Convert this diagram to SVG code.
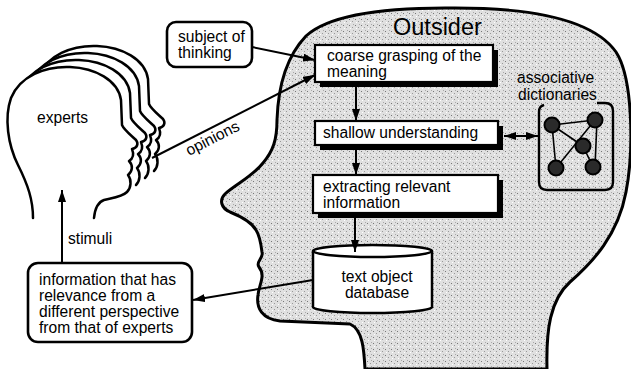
<svg xmlns="http://www.w3.org/2000/svg" xmlns:xlink="http://www.w3.org/1999/xlink" width="631" height="369" viewBox="0 0 631 369">
<defs>
<style>
.t{font-family:"Liberation Sans",Arial,Helvetica,sans-serif;font-size:15.6px;fill:#000}
.big{font-size:23.5px}
.ol{fill:none;stroke:#000;stroke-width:2.5;stroke-linejoin:round;stroke-linecap:round}
.box{fill:#fff;stroke:#000;stroke-width:2.2}
.rbox{fill:#fff;stroke:#000;stroke-width:2.6}
.sh{fill:#000}
.con{fill:none;stroke:#000;stroke-width:2}
.node{fill:#2a2a2a;stroke:#000;stroke-width:2}
.edge{fill:none;stroke:#000;stroke-width:1.6}
</style>
<pattern id="stip" width="6" height="6" patternUnits="userSpaceOnUse">
<rect width="6" height="6" fill="#e0e0e0"/>
<rect x="1" y="1" width="1" height="1" fill="#777"/>
<rect x="4" y="3" width="1" height="1" fill="#999"/>
<rect x="2" y="4" width="1" height="1" fill="#fff"/>
<rect x="5" y="0" width="1" height="1" fill="#aaa"/>
</pattern>
<marker id="ah" viewBox="0 0 12 8" refX="12" refY="4" markerWidth="12" markerHeight="8" markerUnits="userSpaceOnUse" orient="auto-start-reverse">
<path d="M0,0 L12,4 L0,8 Z" fill="#000"/>
</marker>
<path id="hline" d="M33,218 C33,200 28,185 18,165 C8,145 4,118 11,98 C20,76 45,66 70,67 C95,68 118,80 121,100 L122,125 C124,130 132,136 136,140 C139,144 137,148 132,149 C134,154 134,158 129,161 C133,165 133,171 128,175 C132,180 131,188 127,192"/>
<path id="hfill" d="M33,218 C33,200 28,185 18,165 C8,145 4,118 11,98 C20,76 45,66 70,67 C95,68 118,80 121,100 L122,125 C124,130 132,136 136,140 C139,144 137,148 132,149 C134,154 134,158 129,161 C133,165 133,171 128,175 C132,180 131,188 127,192 L60,200 Z"/>
</defs>
<rect width="631" height="369" fill="#fff"/>

<g id="outsider">
<path d="M365,369 C364,350 363,330 350,324 L280,321 C262,319 256,308 258,295 C259,284 266,276 259,267 C255,262 264,258 262,252 C261,244 260,236 256,230 C251,221 240,216 230,212 C221,208 219,200 225,194 C236,184 252,177 263,163 C273,151 277,140 277,120 C278,90 285,58 306,36 C330,14 385,8 445,8 C525,7 592,18 616,52 C633,78 634,150 626,192 C618,235 593,262 570,282 C550,300 546,330 547,369 Z" fill="url(#stip)" stroke="#000" stroke-width="3" stroke-linejoin="round"/>
<text class="t big" x="393" y="35">Outsider</text>
</g>

<g id="experts">
<use xlink:href="#hfill" href="#hfill" fill="#fff" stroke="none" transform="translate(27,-21)"/>
<use xlink:href="#hline" href="#hline" fill="none" stroke="#000" stroke-width="2.5" stroke-linejoin="round" stroke-linecap="round" transform="translate(27,-21)"/>
<use xlink:href="#hfill" href="#hfill" fill="#fff" stroke="none" transform="translate(18,-14)"/>
<use xlink:href="#hline" href="#hline" fill="none" stroke="#000" stroke-width="2.5" stroke-linejoin="round" stroke-linecap="round" transform="translate(18,-14)"/>
<use xlink:href="#hfill" href="#hfill" fill="#fff" stroke="none" transform="translate(9,-7)"/>
<use xlink:href="#hline" href="#hline" fill="none" stroke="#000" stroke-width="2.5" stroke-linejoin="round" stroke-linecap="round" transform="translate(9,-7)"/>
<path d="M33,218 C33,200 28,185 18,165 C8,145 4,118 11,98 C20,76 45,66 70,67 C95,68 118,80 121,100 L122,125 C124,130 132,136 136,140 C139,144 137,148 132,149 C134,154 134,158 129,161 C133,165 133,171 128,175 C132,180 131,188 127,192 C122,197 112,198 104,200 C98,202 95,208 94,218 Z" fill="#fff" stroke="none"/>
<path class="ol" d="M33,218 C33,200 28,185 18,165 C8,145 4,118 11,98 C20,76 45,66 70,67 C95,68 118,80 121,100 L122,125 C124,130 132,136 136,140 C139,144 137,148 132,149 C134,154 134,158 129,161 C133,165 133,171 128,175 C132,180 131,188 127,192 C122,197 112,198 104,200 C98,202 95,208 94,218"/>
<text class="t" x="37" y="123">experts</text>
</g>

<g id="subject">
<rect class="rbox" x="167" y="22" width="85" height="45" rx="9"/>
<text class="t" x="178" y="42">subject of</text>
<text class="t" x="178" y="58">thinking</text>
</g>

<g id="coarse">
<rect class="sh" x="320" y="50" width="178" height="37"/>
<rect class="box" x="315" y="45" width="178" height="37"/>
<text class="t" x="327" y="61">coarse grasping of the</text>
<text class="t" x="327" y="77">meaning</text>
</g>

<g id="shallow">
<rect class="sh" x="320" y="126" width="183" height="24"/>
<rect class="box" x="315" y="121" width="183" height="24"/>
<text class="t" x="323" y="138">shallow understanding</text>
</g>

<g id="extracting">
<rect class="sh" x="318" y="180" width="185" height="38"/>
<rect class="box" x="313" y="175" width="185" height="38"/>
<text class="t" x="323" y="192">extracting relevant</text>
<text class="t" x="323" y="208">information</text>
</g>

<g id="database">
<path d="M313,251 L313,307 A59.5,6 0 0 0 432,307 L432,251 A59.5,6 0 0 0 313,251 Z" fill="#fff" stroke="#000" stroke-width="2.5"/>
<path d="M313,251 A59.5,6 0 0 0 432,251" fill="none" stroke="#000" stroke-width="2.5"/>
<text class="t" x="377" y="282" text-anchor="middle">text object</text>
<text class="t" x="377" y="298" text-anchor="middle">database</text>
</g>

<g id="dictionaries">
<text class="t" x="517" y="83">associative</text>
<text class="t" x="518" y="100">dictionaries</text>
<path d="M597,103 L605,103 Q613,103 613,111 L613,182 Q613,190 605,190 L547,190 Q539,190 539,182 L539,112 Q539,106 544,105" fill="none" stroke="#000" stroke-width="2.4"/>
<line class="edge" x1="552" y1="125" x2="595" y2="120"/>
<line class="edge" x1="552" y1="125" x2="583" y2="146"/>
<line class="edge" x1="552" y1="125" x2="556" y2="168"/>
<line class="edge" x1="595" y1="120" x2="556" y2="168"/>
<line class="edge" x1="597" y1="120" x2="595" y2="167"/>
<line class="edge" x1="583" y1="146" x2="593" y2="167"/>
<circle class="node" cx="552" cy="125" r="7.5"/>
<circle class="node" cx="595" cy="120" r="7.5"/>
<circle class="node" cx="583" cy="146" r="7.5"/>
<circle class="node" cx="556" cy="168" r="7.5"/>
<circle class="node" cx="593" cy="167" r="7.5"/>
</g>

<g id="info">
<rect class="rbox" x="28" y="263" width="164" height="79" rx="10"/>
<text class="t" x="39" y="284.5">information that has</text>
<text class="t" x="39" y="300.5">relevance from a</text>
<text class="t" x="39" y="316.5">different perspective</text>
<text class="t" x="39" y="332.5">from that of experts</text>
</g>

<g id="connectors">
<line class="con" x1="252" y1="47" x2="315" y2="60" marker-end="url(#ah)"/>
<line class="con" x1="152" y1="158" x2="315" y2="75" marker-end="url(#ah)"/>
<text class="t" x="189" y="156" transform="rotate(-27 189 156)">opinions</text>
<line class="con" x1="356" y1="87" x2="356" y2="121" marker-end="url(#ah)"/>
<line class="con" x1="356" y1="150" x2="356" y2="175" marker-end="url(#ah)"/>
<line class="con" x1="355" y1="218" x2="355" y2="252" marker-end="url(#ah)"/>
<line class="con" x1="504" y1="136" x2="538" y2="136" marker-start="url(#ah)" marker-end="url(#ah)"/>
<line class="con" x1="313" y1="280" x2="193" y2="300" marker-end="url(#ah)"/>
<line class="con" x1="62" y1="263" x2="62" y2="190" marker-end="url(#ah)"/>
<text class="t" x="68" y="244">stimuli</text>
</g>
</svg>
